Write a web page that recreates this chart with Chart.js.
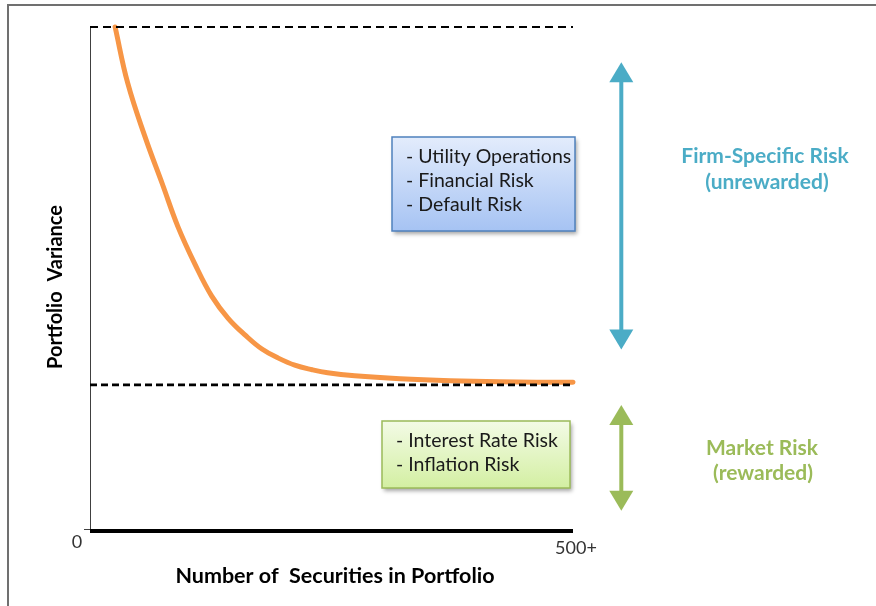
<!DOCTYPE html>
<html>
<head>
<meta charset="utf-8">
<script src="https://cdn.jsdelivr.net/npm/chart.js@4.4.1/dist/chart.umd.min.js"></script>
<style>
	html, body { margin: 0; padding: 0; background: #fff; }
	#wrap { position: relative; width: 876px; height: 606px; overflow: hidden; }
	#frame { position: absolute; left: 7px; top: 4px; width: 900px; height: 700px; border-top: 2px solid #707070; border-left: 2px solid #707070; }
	canvas { position: absolute; left: 0; top: 0; }
</style>
</head>
<body>
<div id="wrap">
	<div id="frame"></div>
	<canvas id="risk-chart" width="876" height="606"></canvas>
</div>
<script>
// number of securities vs portfolio variance
const securities = [26, 39, 57, 75, 91, 109, 126, 143, 161, 178, 195, 212, 230, 246, 274, 321, 373, 424, 500];
const variance = [100, 88.9, 78.2, 68.8, 60.4, 52.8, 46.6, 42.2, 38.8, 36.1, 34.3, 32.9, 32.0, 31.4, 30.8, 30.2, 29.8, 29.6, 29.5];

const xTickLabels = ["0", "500+"];
const xRange = [0, 500];
const totalRiskLevel = 100;
const marketRiskLevel = 29;

const xTitle = "Number of  Securities in Portfolio";
const yTitle = "Portfolio  Variance";

const firmItems = ["- Utility Operations", "- Financial Risk", "- Default Risk"];
const marketItems = ["- Interest Rate Risk", "- Inflation Risk"];
const firmLabel = ["Firm-Specific Risk", "(unrewarded)"];
const marketLabel = ["Market Risk", "(rewarded)"];
const firmArrowRange = [36, 93];
const marketArrowRange = [4, 25];

const FONT = "Lato, 'Open Sans', sans-serif";

function drawBox(ctx, x, y, w, h, top, bottom, border, lines, textX, firstY) {
	ctx.save();
	ctx.shadowColor = "rgba(0,0,0,0.35)";
	ctx.shadowBlur = 4;
	ctx.shadowOffsetX = 2;
	ctx.shadowOffsetY = 3;
	const grad = ctx.createLinearGradient(0, y, 0, y + h);
	grad.addColorStop(0, top);
	grad.addColorStop(1, bottom);
	ctx.fillStyle = grad;
	ctx.fillRect(x, y, w, h);
	ctx.restore();
	ctx.save();
	ctx.strokeStyle = border;
	ctx.lineWidth = 1.5;
	ctx.strokeRect(x, y, w, h);
	ctx.fillStyle = "#1a1a1a";
	ctx.font = "19.5px " + FONT;
	ctx.textBaseline = "middle";
	ctx.textAlign = "left";
	lines.forEach((line, i) => ctx.fillText(line, textX, firstY + i * 24));
	ctx.restore();
}

function drawArrow(ctx, x, yTop, yBottom, color) {
	const headW = 12, headL = 20;
	ctx.save();
	ctx.fillStyle = color;
	ctx.strokeStyle = color;
	ctx.lineWidth = 4;
	ctx.beginPath();
	ctx.moveTo(x, yTop + headL - 1);
	ctx.lineTo(x, yBottom - headL + 1);
	ctx.stroke();
	ctx.beginPath();
	ctx.moveTo(x, yTop);
	ctx.lineTo(x - headW, yTop + headL);
	ctx.lineTo(x + headW, yTop + headL);
	ctx.closePath();
	ctx.fill();
	ctx.beginPath();
	ctx.moveTo(x, yBottom);
	ctx.lineTo(x - headW, yBottom - headL);
	ctx.lineTo(x + headW, yBottom - headL);
	ctx.closePath();
	ctx.fill();
	ctx.restore();
}

const decorations = {
	id: "decorations",
	beforeDatasetsDraw(chart) {
		const { ctx, chartArea, scales } = chart;
		const y0 = scales.y.getPixelForValue(0);
		ctx.save();
		// left axis
		ctx.strokeStyle = "#404040";
		ctx.lineWidth = 1;
		ctx.beginPath();
		ctx.moveTo(chartArea.left + 0.5, chartArea.top);
		ctx.lineTo(chartArea.left + 0.5, y0);
		ctx.moveTo(chartArea.left - 6, y0 - 1.5);
		ctx.lineTo(chartArea.left, y0 - 1.5);
		ctx.stroke();
		ctx.restore();
	},
	afterDatasetsDraw(chart) {
		const { ctx, chartArea, scales } = chart;
		const x = scales.x, y = scales.y;
		const y0 = y.getPixelForValue(0);

		ctx.save();
		// bottom axis
		ctx.strokeStyle = "#000";
		ctx.lineWidth = 4;
		ctx.beginPath();
		ctx.moveTo(chartArea.left, y0);
		ctx.lineTo(x.getPixelForValue(xRange[1]), y0);
		ctx.stroke();

		// tick labels
		ctx.fillStyle = "#333";
		ctx.font = "18px " + FONT;
		ctx.textBaseline = "middle";
		ctx.textAlign = "center";
		ctx.fillText(xTickLabels[0], x.getPixelForValue(xRange[0]) - 13, y0 + 11);
		ctx.fillText(xTickLabels[1], x.getPixelForValue(xRange[1]) + 3, y0 + 17);

		// axis titles
		ctx.fillStyle = "#000";
		ctx.font = "bold 21.5px " + FONT;
		ctx.fillText(xTitle, 335, 576);
		ctx.save();
		ctx.translate(56, 287);
		ctx.rotate(-Math.PI / 2);
		ctx.font = "bold 20px " + FONT;
		ctx.fillText(yTitle, 0, 0);
		ctx.restore();
		ctx.restore();

		// boxes
		drawBox(ctx, 392, 137, 183, 94, "#e3ecfc", "#a6c3f3", "#4f81bd", firmItems, 406, 157);
		drawBox(ctx, 382, 421, 188, 67, "#f3fbe6", "#d3efa2", "#9bbb59", marketItems, 396, 441);

		// arrows
		const ax = x.getPixelForValue(550);
		drawArrow(ctx, ax, y.getPixelForValue(firmArrowRange[1]), y.getPixelForValue(firmArrowRange[0]), "#4bacc6");
		drawArrow(ctx, ax, y.getPixelForValue(marketArrowRange[1]), y.getPixelForValue(marketArrowRange[0]), "#9bbb59");

		// band labels
		ctx.save();
		ctx.font = "bold 21px " + FONT;
		ctx.textAlign = "center";
		ctx.textBaseline = "middle";
		ctx.fillStyle = "#4bacc6";
		ctx.fillText(firmLabel[0], 765, 156);
		ctx.fillText(firmLabel[1], 767, 182);
		ctx.fillStyle = "#9bbb59";
		ctx.fillText(marketLabel[0], 762, 448);
		ctx.fillText(marketLabel[1], 763, 473);
		ctx.restore();
	},
};

const chart = new Chart(document.getElementById("risk-chart"), {
	type: "line",
	data: {
		datasets: [
			{
				label: "Total risk",
				data: xRange.map((v) => ({ x: v, y: totalRiskLevel })),
				borderColor: "#000",
				borderWidth: 1.8,
				borderDash: [8, 5],
				pointRadius: 0,
				clip: false,
			},
			{
				label: "Market risk",
				data: xRange.map((v) => ({ x: v, y: marketRiskLevel })),
				borderColor: "#000",
				borderWidth: 2.8,
				borderDash: [7, 4],
				pointRadius: 0,
				clip: false,
			},
			{
				label: "Portfolio variance",
				data: securities.map((s, i) => ({ x: s, y: variance[i] })),
				borderColor: "#f79646",
				borderWidth: 5,
				pointRadius: 0,
				tension: 0.4,
				borderCapStyle: "round",
				clip: false,
			},
		],
	},
	options: {
		responsive: false,
		animation: false,
		layout: { padding: { left: 90, right: 303, top: 27, bottom: 75 } },
		plugins: {
			legend: { display: false },
			tooltip: { enabled: false },
		},
		scales: {
			x: { type: "linear", min: xRange[0], max: xRange[1], display: false },
			y: { type: "linear", min: 0, max: 100, display: false },
		},
	},
	plugins: [decorations],
});
</script>
</body>
</html>
